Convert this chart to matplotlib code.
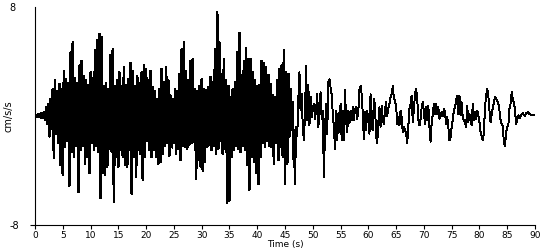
import numpy as np
import matplotlib
matplotlib.use("Agg")
import matplotlib.pyplot as plt

# sampling step of the record (s)
dt = 0.2

# acceleration values, one list per 10 s window
acc_00_10 = [0.05, -0.05, 0.1, -0.05, 0.15, -0.1, 0.2, -0.15, 0.25, -0.3,
             0.65, -0.6, 0.9, -1.5, 1.25, -0.95, 2.0, -3.1, 2.6, -1.3,
             1.8, -2.0, 2.35, -3.6, 2.0, -4.3, 3.3, -2.3, 2.7, -1.8,
             2.4, -5.1, 4.65, -2.6, 5.4, -3.0, 2.8, -2.2, 2.4, -5.6,
             3.7, -2.5, 4.05, -2.2, 2.95, -3.5, 2.6, -3.0, 2.3, -4.2]
acc_10_20 = [3.2, -2.0, 2.8, -2.5, 4.8, -2.2, 5.6, -2.6, 6.0, -6.0,
             5.75, -4.2, 2.2, -4.35, 2.4, -3.7, 2.0, -2.4, 4.5, -2.6,
             4.9, -6.3, 2.2, -3.0, 2.6, -3.7, 3.2, -2.5, 2.2, -3.0,
             3.55, -3.6, 2.3, -3.7, 2.7, -2.5, 3.9, -5.7, 3.3, -3.0,
             2.2, -4.5, 2.95, -2.5, 2.4, -2.8, 3.2, -4.7, 3.7, -3.0]
acc_20_30 = [3.45, -1.8, 2.6, -2.5, 3.3, -3.0, 2.1, -2.5, 1.8, -3.0,
             1.25, -3.5, 2.0, -3.4, 3.45, -2.75, 2.5, -2.2, 3.55, -2.0,
             2.6, -2.9, 1.5, -2.3, 1.2, -2.0, 2.0, -2.75, 1.8, -2.4,
             3.1, -3.25, 4.9, -2.2, 5.4, -2.3, 3.3, -2.4, 2.6, -2.1,
             4.05, -2.0, 4.2, -1.9, 2.0, -4.6, 1.8, -3.2, 2.2, -3.7]
acc_30_40 = [2.7, -4.0, 2.0, -3.4, 1.9, -2.3, 2.1, -2.1, 2.85, -2.5,
             2.5, -2.2, 4.9, -2.8, 7.6, -2.4, 5.4, -1.8, 3.1, -2.8,
             4.2, -2.4, 2.6, -6.4, 2.2, -6.2, 1.35, -3.0, 2.0, -2.5,
             2.5, -2.2, 4.65, -2.4, 6.1, -2.65, 3.0, -2.2, 4.05, -2.5,
             5.0, -3.6, 4.2, -5.4, 4.2, -3.0, 3.2, -3.4, 2.6, -4.2]
acc_40_50 = [2.2, -5.0, 2.3, -3.0, 4.05, -2.0, 3.9, -2.3, 3.55, -1.8,
             3.0, -2.2, 2.35, -2.3, 1.5, -3.5, 1.4, -2.0, 2.6, -3.25,
             3.45, -2.3, 3.7, -3.0, 4.8, -5.0, 3.2, -3.5, 3.1, -1.5,
             2.0, -1.0, 1.0, -3.7, -5.0, -0.8, -1.5, 1.2, 3.2, 0.4,
             1.6, -0.8, -1.8, 0.2, 3.7, -0.3, 2.3, -0.7, 1.4, -0.1]
acc_50_60 = [0.5, 0.9, -0.2, 0.5, 1.6, -0.8, 0.5, 1.75, -0.2, 0.4,
             -4.5, -1.0, 0.9, -1.3, 2.5, 2.7, 2.1, 1.6, 0.15, -0.8,
             -2.4, 0.4, -1.8, 0.2, -1.2, 0.9, -1.8, 0.4, -1.8, 1.9,
             -0.3, -1.2, 0.4, -0.5, 0.4, -0.3, 0.65, -0.3, 0.5, 0.65,
             -0.2, 0.4, 1.9, 2.2, 1.6, 0.15, -1.7, 0.3, -1.0, 0.4]
acc_60_70 = [-0.3, -1.3, 1.6, -0.8, -1.0, 1.25, 0.8, -1.5, -2.0, -0.5,
             0.65, -0.8, 0.75, -0.2, -0.6, 0.4, 1.0, 0.0, 0.6, 0.9,
             1.4, 1.6, 2.2, 1.3, 1.1, 0.75, -0.6, -0.1, -0.7, 0.4,
             -0.1, -1.2, -0.8, -1.05, -1.3, -2.0, -0.8, 0.5, 0.9, 1.5,
             -0.45, 0.5, 1.6, 2.0, 1.25, -0.3, -0.7, -0.2, 0.65, 1.0]
acc_70_80 = [0.3, -0.6, 0.65, -0.3, 0.75, -0.8, -1.9, -0.5, 0.15, 0.9,
             0.15, 0.9, 0.15, 0.65, -0.2, 0.0, 0.3, 0.0, 0.5, 0.3,
             -0.6, -0.1, -0.8, -1.8, -1.55, -0.8, -0.3, 0.4, 0.65, 1.15,
             1.5, 0.15, 1.5, 0.05, 1.0, -0.2, -0.3, -0.45, -0.8, 0.75,
             -0.45, 0.15, -0.1, -0.7, 0.9, -0.3, 0.3, -0.2, 0.4, 0.0]
acc_80_90 = [-0.45, -1.2, -1.5, -1.8, -1.2, 0.65, 1.5, 2.0, 1.5, 0.4,
             -0.45, 0.15, 0.6, 1.0, 1.4, 1.25, 1.1, 0.9, 0.4, -0.3,
             -0.6, -0.7, -2.0, -2.2, -1.2, -0.8, -0.7, 0.5, 0.9, 1.75,
             1.2, 1.0, 0.4, -0.6, -0.3, 0.05, -0.15, 0.0, 0.1, 0.2,
             0.1, 0.0, 0.25, 0.25, 0.3, 0.15, 0.1, 0.1, 0.1, 0.1, 0.1]

x_ticks = [0, 5, 10, 15, 20, 25, 30, 35, 40, 45, 50, 55, 60, 65, 70, 75, 80, 85, 90]
y_ticks = [-8, 8]

acc = np.array(acc_00_10 + acc_10_20 + acc_20_30 + acc_30_40 + acc_40_50
               + acc_50_60 + acc_60_70 + acc_70_80 + acc_80_90)
t = np.arange(len(acc)) * dt

plt.rcParams['font.family'] = ['DejaVu Sans']
fig = plt.figure(figsize=(5.5, 2.5), dpi=100)
ax = fig.add_axes([35/550, 1 - 225/250, 500/550, 218/250])

# strong-motion part drawn heavier so it fills in like the original
strong = t <= 46.8
ax.plot(t[strong], acc[strong], color='black', lw=1.1, antialiased=False)
coda = t >= 46.8
ax.plot(t[coda], acc[coda], color='black', lw=0.7, antialiased=False)

ax.set_xlim(0, 90)
ax.set_ylim(-8, 8)
ax.set_xticks(x_ticks)
ax.set_yticks(y_ticks)
ax.set_yticklabels([str(v) for v in y_ticks], ha='left')
ax.tick_params(axis='x', direction='out', length=3, width=0.8, pad=1, labelsize=6.5)
ax.tick_params(axis='y', direction='out', length=3.5, width=0.8, pad=15, labelsize=7)
ax.yaxis.get_major_ticks()[1].tick1line.set_visible(False)

for s in ['top', 'right']:
    ax.spines[s].set_visible(False)
for s in ['left', 'bottom']:
    ax.spines[s].set_linewidth(0.8)

ax.set_xlabel('Time (s)', fontsize=6.5, labelpad=0.5)
ax.set_ylabel('cm/s/s', fontsize=7)
ax.yaxis.set_label_coords(-0.042, 0.5)

fig.savefig('out.png', dpi=100)
